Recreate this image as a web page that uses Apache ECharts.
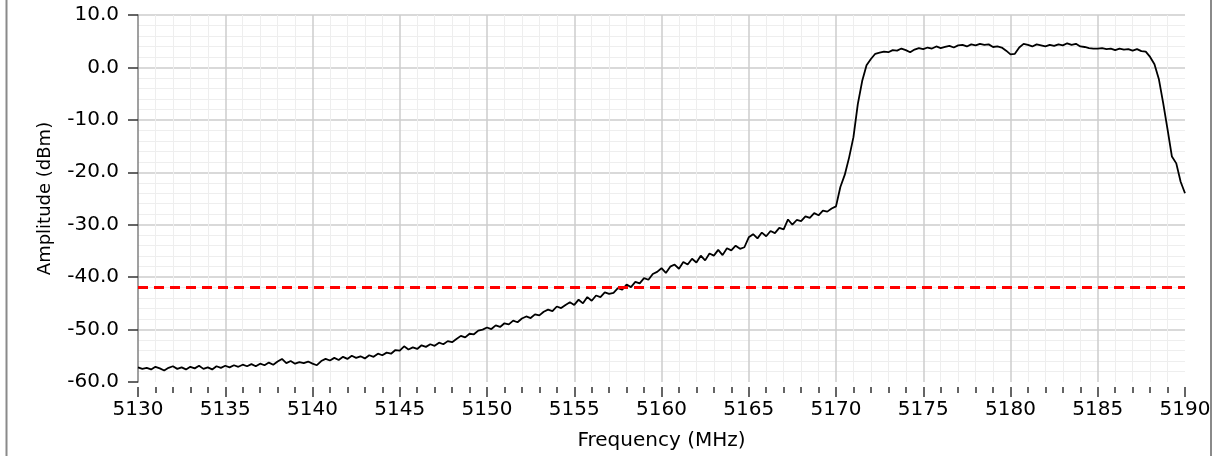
<!DOCTYPE html>
<html>
<head>
<meta charset="utf-8">
<script src="https://cdn.jsdelivr.net/npm/echarts@6/dist/echarts.min.js"></script>
<style>
  html, body { margin: 0; padding: 0; background: #ffffff; }
  #chart { width: 1214px; height: 456px; }
</style>
</head>
<body>
<div id="chart"></div>
<script>
// Frequency grid (MHz)
const FREQ_START = 5130;
const FREQ_STEP = 0.25;
// Axis settings
const X_MIN = 5130, X_MAX = 5190, X_INTERVAL = 5;
const Y_MIN = -60, Y_MAX = 10, Y_INTERVAL = 10;
// Threshold line (dBm)
const THRESHOLD = -42;
// Measured amplitude (dBm), one value per 0.25 MHz from 5130 to 5190
const amplitude = [
  -57.2,-57.5,-57.3,-57.6,-57.1,-57.4,-57.8,-57.3,-57.0,-57.5,-57.2,-57.6,-57.1,-57.4,-56.9,-57.5,-57.2,-57.6,-57.0,-57.3,
  -56.9,-57.2,-56.8,-57.1,-56.7,-57.0,-56.6,-57.0,-56.5,-56.8,-56.3,-56.7,-56.1,-55.6,-56.4,-56.0,-56.5,-56.2,-56.4,-56.1,
  -56.5,-56.8,-56.0,-55.6,-55.9,-55.4,-55.8,-55.2,-55.6,-55.0,-55.4,-55.1,-55.5,-54.9,-55.2,-54.6,-54.9,-54.4,-54.6,-53.9,
  -54.0,-53.2,-53.8,-53.4,-53.7,-53.0,-53.3,-52.8,-53.1,-52.5,-52.8,-52.2,-52.4,-51.8,-51.2,-51.5,-50.8,-50.9,-50.2,-50.0,
  -49.6,-49.9,-49.2,-49.5,-48.8,-49.0,-48.3,-48.6,-47.9,-47.5,-47.8,-47.1,-47.3,-46.6,-46.2,-46.5,-45.6,-45.9,-45.3,-44.8,
  -45.3,-44.3,-45.0,-43.8,-44.5,-43.5,-43.8,-42.9,-43.2,-43.0,-42.1,-42.4,-41.4,-41.9,-40.9,-41.2,-40.2,-40.5,-39.4,-39.0,
  -38.3,-39.2,-38.0,-37.6,-38.4,-37.1,-37.6,-36.5,-37.2,-35.9,-36.8,-35.5,-35.9,-34.8,-35.8,-34.5,-34.9,-34.0,-34.6,-34.3,
  -32.4,-31.8,-32.6,-31.5,-32.2,-31.2,-31.6,-30.6,-30.9,-29.0,-30.0,-29.1,-29.3,-28.4,-28.7,-27.8,-28.2,-27.3,-27.5,-26.9,
  -26.5,-22.8,-20.5,-17.2,-13.3,-7.0,-2.6,0.4,1.6,2.6,2.8,3.0,2.9,3.3,3.2,3.6,3.3,2.9,3.4,3.7,
  3.5,3.8,3.6,4.0,3.7,3.9,4.1,3.8,4.2,4.3,4.0,4.4,4.2,4.5,4.3,4.4,3.9,4.0,3.8,3.2,
  2.5,2.6,3.8,4.5,4.3,4.0,4.4,4.2,4.0,4.3,4.1,4.4,4.2,4.6,4.3,4.5,4.0,3.9,3.7,3.6,
  3.6,3.7,3.5,3.6,3.3,3.6,3.4,3.5,3.2,3.5,3.1,3.0,2.0,0.6,-2.2,-6.8,-11.8,-17.0,-18.3,-21.8,
  -24.0
];

const seriesData = amplitude.map((v, i) => [FREQ_START + i * FREQ_STEP, v]);

const chart = echarts.init(document.getElementById('chart'), null, { renderer: 'canvas' });
const FONT = 'DejaVu Sans';

chart.setOption({
  animation: false,
  backgroundColor: '#ffffff',
  grid: { left: 138, right: 29, top: 15, bottom: 74, containLabel: false },
  xAxis: {
    type: 'value',
    position: 'bottom',
    min: X_MIN, max: X_MAX, interval: X_INTERVAL,
    offset: 5,
    axisLine: { show: false, onZero: false },
    axisTick: { show: true, length: 10, lineStyle: { color: '#333333', width: 1.5 } },
    minorTick: { show: true, splitNumber: 5, length: 6, lineStyle: { color: '#333333', width: 1.5 } },
    axisLabel: { margin: 13, color: '#000000', fontFamily: FONT, fontSize: 20,
      formatter: v => String(v) },
    splitLine: { show: true, showMinLine: false, showMaxLine: false, lineStyle: { color: '#cccccc', width: 1.5 } },
    minorSplitLine: { show: true, lineStyle: { color: '#eeeeee', width: 1 } },
    name: 'Frequency (MHz)',
    nameLocation: 'middle',
    nameGap: 44,
    nameTextStyle: { color: '#000000', fontFamily: FONT, fontSize: 20 }
  },
  yAxis: {
    type: 'value',
    min: Y_MIN, max: Y_MAX, interval: Y_INTERVAL,
    axisLine: { show: true, onZero: false, lineStyle: { color: '#808080', width: 1.5 } },
    axisTick: { show: true, inside: false, length: 10, lineStyle: { color: '#333333', width: 1.5 } },
    axisLabel: { margin: 19, color: '#000000', fontFamily: FONT, fontSize: 20,
      formatter: v => v.toFixed(1) },
    splitLine: { show: true, showMinLine: false, showMaxLine: true, lineStyle: { color: '#cccccc', width: 1.5 } },
    minorTick: { show: false, splitNumber: 5 },
    minorSplitLine: { show: true, lineStyle: { color: '#eeeeee', width: 1 } },
    name: 'Amplitude (dBm)',
    nameLocation: 'middle',
    nameGap: 84,
    nameRotate: 90,
    nameTextStyle: { color: '#000000', fontFamily: FONT, fontSize: 18 }
  },
  graphic: [
    { type: 'line', silent: true, shape: { x1: 6.5, y1: 0, x2: 6.5, y2: 456 }, style: { stroke: '#8a8a8a', lineWidth: 2 } },
    { type: 'line', silent: true, shape: { x1: 1211, y1: 0, x2: 1211, y2: 456 }, style: { stroke: '#8a8a8a', lineWidth: 2 } }
  ],
  series: [{
    type: 'line',
    data: seriesData,
    showSymbol: false,
    symbol: 'none',
    lineStyle: { color: '#000000', width: 1.8 },
    silent: true,
    z: 3,
    markLine: {
      silent: true,
      symbol: ['none', 'none'],
      label: { show: false },
      lineStyle: { color: '#ff0000', width: 3, type: [10, 6] },
      data: [{ yAxis: THRESHOLD }],
      z: 4
    }
  }]
});
</script>
</body>
</html>
